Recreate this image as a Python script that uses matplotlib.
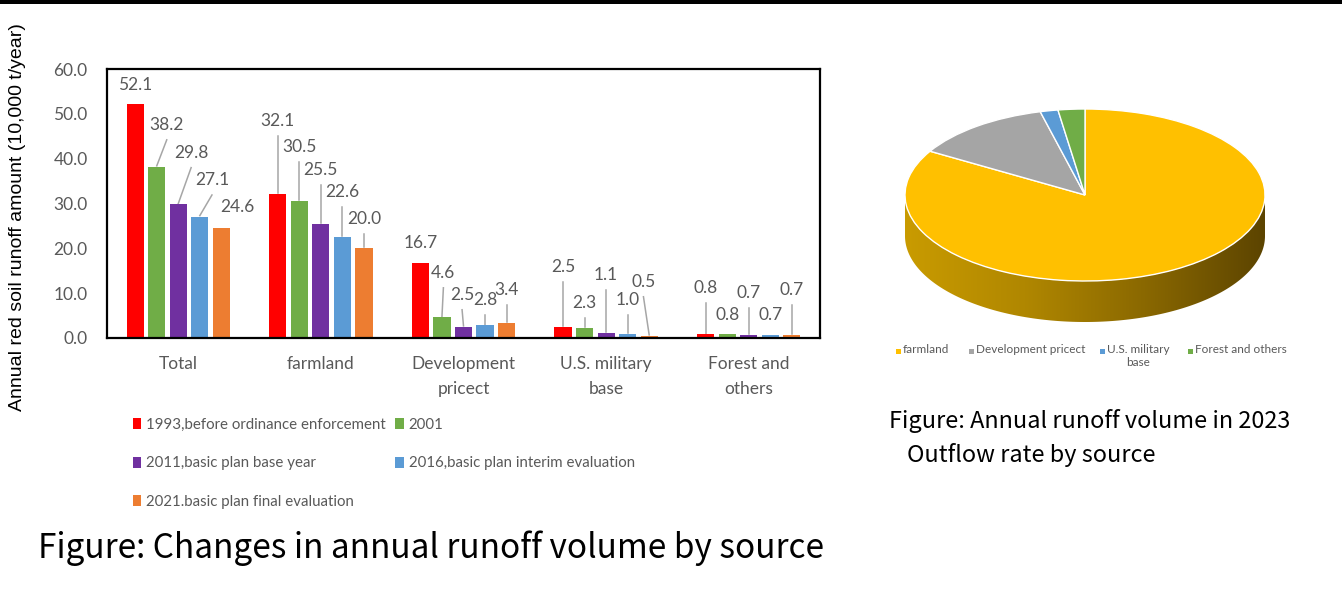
import numpy as np
import matplotlib
matplotlib.use("Agg")
import matplotlib.pyplot as plt
from matplotlib import font_manager
from matplotlib.patches import Polygon, Rectangle
from matplotlib.colors import LinearSegmentedColormap

# ---------------- data ----------------
categories = ["Total", "farmland", "Development\npricect", "U.S. military\nbase", "Forest and\nothers"]
series_names = ["1993,before ordinance enforcement", "2001", "2011,basic plan base year",
                "2016,basic plan interim evaluation", "2021.basic plan final evaluation"]
v1993 = [52.1, 32.1, 16.7, 2.5, 0.8]
v2001 = [38.2, 30.5, 4.6, 2.3, 0.8]
v2011 = [29.8, 25.5, 2.5, 1.1, 0.7]
v2016 = [27.1, 22.6, 2.8, 1.0, 0.7]
v2021 = [24.6, 20.0, 3.4, 0.5, 0.7]
y_ticks = [0, 10, 20, 30, 40, 50, 60]

pie_labels = ["farmland", "Development pricect", "U.S. military\nbase", "Forest and others"]
pie_values = [83.5, 12.5, 1.6, 2.4]

# ---------------- layout / style ----------------
series_colors = ["#FF0000", "#70AD47", "#7030A0", "#5B9BD5", "#ED7D31"]
pie_colors = ["#FFC000", "#A5A5A5", "#5B9BD5", "#70AD47"]
# data-label heights (where the label text sits, in axis units) and x shifts
lab_h = [[56.4, 48.4, 21.2, 15.8, 11.2],
         [47.5, 42.6, 14.5, 7.8, 5.1],
         [41.3, 37.5, 9.6, 14.1, 10.0],
         [35.2, 32.6, 8.5, 8.5, 5.1],
         [29.2, 26.5, 10.7, 12.5, 10.7]]
lab_dx = [[0, 0, 0, 0, 0],
          [0.07, 0, 0.01, 0, 0],
          [0.09, 0, -0.01, 0, 0],
          [0.085, 0, 0, 0, 0],
          [0.11, 0, 0, -0.04, 0]]

avail = {f.name for f in font_manager.fontManager.ttflist}
def pick(*names):
    for n in names:
        if n in avail:
            return n
    return "DejaVu Sans"

F_CHART = pick("Lato", "Open Sans", "Liberation Sans")
F_LEG = pick("Liberation Sans Narrow", "Lato")
F_ARIAL = pick("Liberation Sans", "DejaVu Sans")
F_CAP = pick("Noto Sans CJK JP", "DejaVu Sans")
GRAY = "#595959"

W, H = 1342, 592
fig = plt.figure(figsize=(W / 100, H / 100), dpi=100)
fig.patch.set_facecolor("white")

def fx(px):
    return px / W
def fy(py):
    return 1 - py / H

# top black strip
fig.add_artist(Rectangle((0, fy(4)), 1, 4 / H, transform=fig.transFigure,
                         facecolor="black", edgecolor="none"))

# ---------------- bar chart ----------------
ax = fig.add_axes([fx(107), fy(338), fx(820) - fx(107), fy(69) - fy(338)])
all_vals = [v1993, v2001, v2011, v2016, v2021]
x = np.arange(len(categories))
pitch = 0.151
bw = 0.12
containers = []
for i, (vals, col, name) in enumerate(zip(all_vals, series_colors, series_names)):
    xs = x + (i - 2) * pitch
    c = ax.bar(xs, vals, width=bw, color=col, label=name, zorder=2)
    containers.append(c)
    for j, (xx, v) in enumerate(zip(xs, vals)):
        lx = xx + lab_dx[i][j]
        ly = lab_h[i][j]
        ax.text(lx, ly, f"{v:.1f}", ha="center", va="center", color=GRAY,
                fontsize=12.5, family=F_CHART, zorder=3)
        top = ly - 3.3
        if top - v > 1.5:
            ax.plot([lx, xx], [top, v + 0.2], color="#A6A6A6", lw=1.1, zorder=1)

ax.set_xlim(-0.5, 4.5)
ax.set_ylim(0, 60)
ax.set_yticks(y_ticks)
ax.set_yticklabels([f"{t:.1f}" for t in y_ticks], color=GRAY, fontsize=12.5, family=F_CHART)
ax.set_xticks(x)
ax.set_xticklabels(categories, color=GRAY, fontsize=12.5, family=F_CHART, linespacing=1.7)
ax.tick_params(axis="both", length=0)
ax.tick_params(axis="y", pad=14)
ax.tick_params(axis="x", pad=13)
for s in ax.spines.values():
    s.set_color("black")
    s.set_linewidth(1.6)

fig.text(fx(18), fy(217), "Annual red soil runoff amount (10,000 t/year)", rotation=90,
         ha="center", va="center", fontsize=14, family=F_ARIAL, color="black")

order = [0, 2, 4, 1, 3]
leg = ax.legend([containers[k] for k in order], [series_names[k] for k in order],
                ncol=2, loc="upper left", bbox_to_anchor=(fx(133), fy(418)),
                bbox_transform=fig.transFigure, frameon=False, borderpad=0,
                borderaxespad=0, handlelength=0.55, handleheight=0.75,
                handletextpad=0.35, columnspacing=0.6, labelspacing=1.62,
                prop={"family": F_LEG, "size": 10.8})
for t in leg.get_texts():
    t.set_color(GRAY)

fig.text(fx(38), fy(548), "Figure: Changes in annual runoff volume by source",
         ha="left", va="center", fontsize=24, family=F_CAP, color="black")

# ---------------- 3D-looking pie ----------------
cxp, cyp, a_px, b_px, depth_px = 1085, 195, 180, 86, 41
L, R, T, B = 895, 1276, 100, 330
pax = fig.add_axes([fx(L), fy(B), fx(R) - fx(L), fy(T) - fy(B)])
pax.pie(pie_values, colors=pie_colors, startangle=90, counterclock=False, radius=1,
        wedgeprops=dict(edgecolor="white", linewidth=1.0))
pax.set_aspect("auto")
pax.axis("off")

d = depth_px / b_px
t = np.linspace(np.pi, 2 * np.pi, 200)
upper = np.column_stack([np.cos(t), np.sin(t)])
lower = np.column_stack([np.cos(t[::-1]), np.sin(t[::-1]) - d])
side = Polygon(np.vstack([upper, lower]), closed=True, facecolor="none", edgecolor="none")
pax.add_patch(side)
cmap = LinearSegmentedColormap.from_list("side", ["#C99B00", "#B08700", "#8A6800", "#5C4400"])
grad = np.linspace(0, 1, 256).reshape(1, -1)
im = pax.imshow(grad, cmap=cmap, extent=[-1, 1, -1 - d, 0.05], aspect="auto", zorder=0)
im.set_clip_path(side)
pax.set_xlim(-(cxp - L) / a_px, (R - cxp) / a_px)
pax.set_ylim(-(B - cyp) / b_px, (cyp - T) / b_px)

# pie legend
leg_x = [896, 969, 1100, 1188]
for lx, lab, col in zip(leg_x, pie_labels, pie_colors):
    fig.add_artist(Rectangle((fx(lx), fy(354)), 5 / W, 5 / H, transform=fig.transFigure,
                             facecolor=col, edgecolor="none"))
    fig.text(fx(lx + 7), fy(344), lab, ha="left", va="top", fontsize=8.5,
             family=F_CHART, color=GRAY, multialignment="center", linespacing=1.2)

fig.text(fx(889), fy(421), "Figure: Annual runoff volume in 2023", ha="left", va="center",
         fontsize=16.9, family=F_CAP, color="black")
fig.text(fx(907), fy(455), "Outflow rate by source", ha="left", va="center",
         fontsize=16.9, family=F_CAP, color="black")

fig.savefig("out.png", dpi=100, facecolor="white")
